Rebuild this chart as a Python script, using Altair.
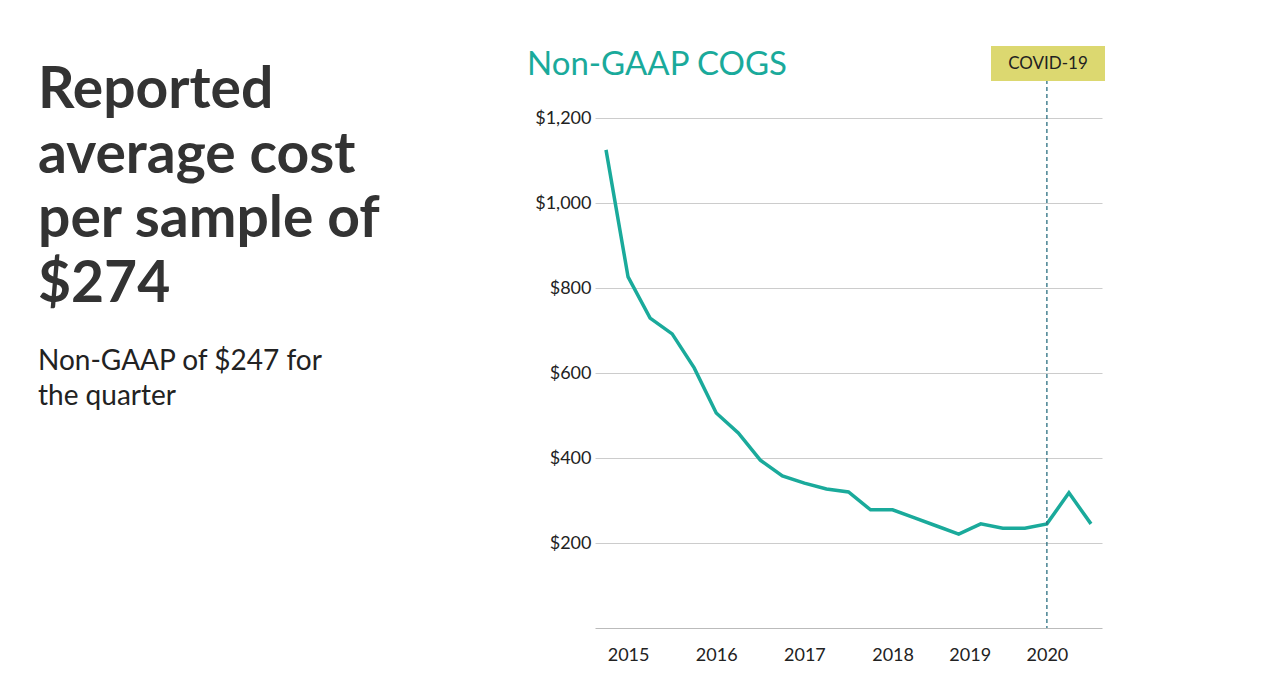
import pandas as pd
import altair as alt

quarter = list(range(23))
cogs = [1125, 826, 729, 692, 612, 506, 459, 395, 358, 341, 327, 320, 278, 278,
        259, 240, 221, 245, 235, 235, 245, 318, 245]
year_ticks = [1, 5, 9, 13, 16.5, 20]
year_labels = ["2015", "2016", "2017", "2018", "2019", "2020"]
covid_q = 20

df = pd.DataFrame({"q": quarter, "cogs": cogs})
label_expr = " : ".join(
    f"datum.value == {v} ? '{l}'" for v, l in zip(year_ticks, year_labels)) + " : ''"

TEAL = "#1aaa9b"
FONT = "Lato"

x = alt.X("q:Q", scale=alt.Scale(domain=[-0.5, 22.5], nice=False),
          axis=alt.Axis(values=year_ticks, labelExpr=label_expr, title=None,
                        grid=False, ticks=False, domainColor="#bbbbbb",
                        labelFontSize=18, labelFont=FONT, labelColor="#222",
                        labelPadding=18))
y = alt.Y("cogs:Q", scale=alt.Scale(domain=[0, 1200], nice=False),
          axis=alt.Axis(values=[200, 400, 600, 800, 1000, 1200], format="$,.0f",
                        title=None, domain=False, ticks=False, gridColor="#cccccc",
                        labelFontSize=18, labelFont=FONT, labelColor="#222",
                        labelPadding=4))

line = alt.Chart(df).mark_line(color=TEAL, strokeWidth=3.5).encode(x=x, y=y)

covid = alt.Chart(pd.DataFrame({"q": [covid_q]})).mark_rule(
    color="#2a6f80", strokeDash=[4, 3], strokeWidth=1.3).encode(
    x="q:Q", y=alt.value(-38), y2=alt.value(510))

box = alt.Chart(pd.DataFrame({"q": [covid_q]})).mark_rect(color="#dcd870").encode(
    x=alt.value(396), x2=alt.value(510), y=alt.value(-72), y2=alt.value(-37))
box_text = alt.Chart(pd.DataFrame({"t": ["COVID-19"]})).mark_text(
    font=FONT, fontSize=17, color="#222").encode(
    text="t:N", x=alt.value(453), y=alt.value(-54))

title = alt.Chart(pd.DataFrame({"t": ["Non-GAAP COGS"]})).mark_text(
    font=FONT, fontSize=33, color=TEAL, align="left").encode(
    text="t:N", x=alt.value(-68), y=alt.value(-53))

head_lines = ["Reported", "average cost", "per sample of", "$274"]
head = alt.Chart(pd.DataFrame({"t": head_lines, "i": range(4)})).mark_text(
    font=FONT, fontSize=57, fontWeight="bold", color="#333333", align="left",
    baseline="middle").encode(
    text="t:N", x=alt.value(-557),
    y=alt.Y("i:Q", scale=alt.Scale(domain=[0, 3], range=[-27, 167]), axis=None))

sub_lines = ["Non-GAAP of $247 for", "the quarter"]
sub = alt.Chart(pd.DataFrame({"t": sub_lines, "i": range(2)})).mark_text(
    font=FONT, fontSize=28, color="#222222", align="left", baseline="middle").encode(
    text="t:N", x=alt.value(-557),
    y=alt.Y("i:Q", scale=alt.Scale(domain=[0, 1], range=[244, 279]), axis=None))

chart = alt.layer(line, covid, box, box_text, title).properties(width=507, height=510)
chart = alt.layer(chart, head, sub).resolve_scale(y="independent").properties(
    autosize="none", padding={"left": 587, "top": 110, "right": 160, "bottom": 40}
).configure_view(stroke=None)

chart.save("out.html", embed_options={"renderer": "svg", "actions": False})
